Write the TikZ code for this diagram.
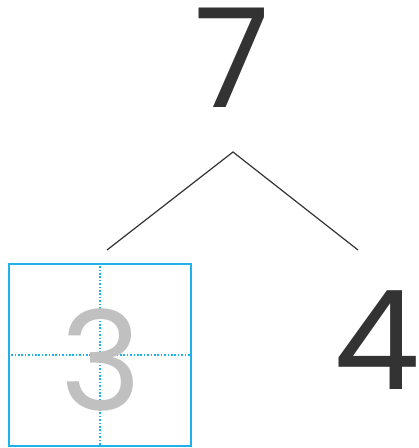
\documentclass[tikz,border=0pt]{standalone}
\usepackage{fontspec}
\setmainfont{Poppins}
\usetikzlibrary{positioning}
\definecolor{DigitDark}{HTML}{333333}
\definecolor{DigitGray}{HTML}{C0C0C0}
\definecolor{GridBlue}{HTML}{1EB2EA}
\begin{document}
\begin{tikzpicture}[
        x=1pt, y=-1pt,
        digit/.style={inner sep=0pt, text=DigitDark, font=\fontsize{138}{140}\selectfont},
        ghost/.style={digit, text=DigitGray},
        grid/.style={draw=GridBlue, line width=2.5pt, minimum size=182pt, inner sep=0pt},
        guide/.style={GridBlue, line width=1.6pt, dash pattern=on 1.6pt off 1.8pt},
        branch/.style={DigitDark, line width=1.2pt},
      ]
        \useasboundingbox (0,0) rectangle (419,448);
        \node[digit] (seven) at (232,58) {7};
        \node[grid]  (box)   at (100,355) {};
        \draw[guide] (box.north) -- (box.south);
        \draw[guide] (box.west) -- (box.east);
        \node[ghost] (three) at (101,360) {3};
        \node[digit] (four)  at (377,340) {4};
        \coordinate (apex)  at (233,152);
        \coordinate (lend)  at (107,250);
        \coordinate (rend)  at (358,250);
        \draw[branch] (lend) -- (apex) -- (rend);
      \end{tikzpicture}
\end{document}
